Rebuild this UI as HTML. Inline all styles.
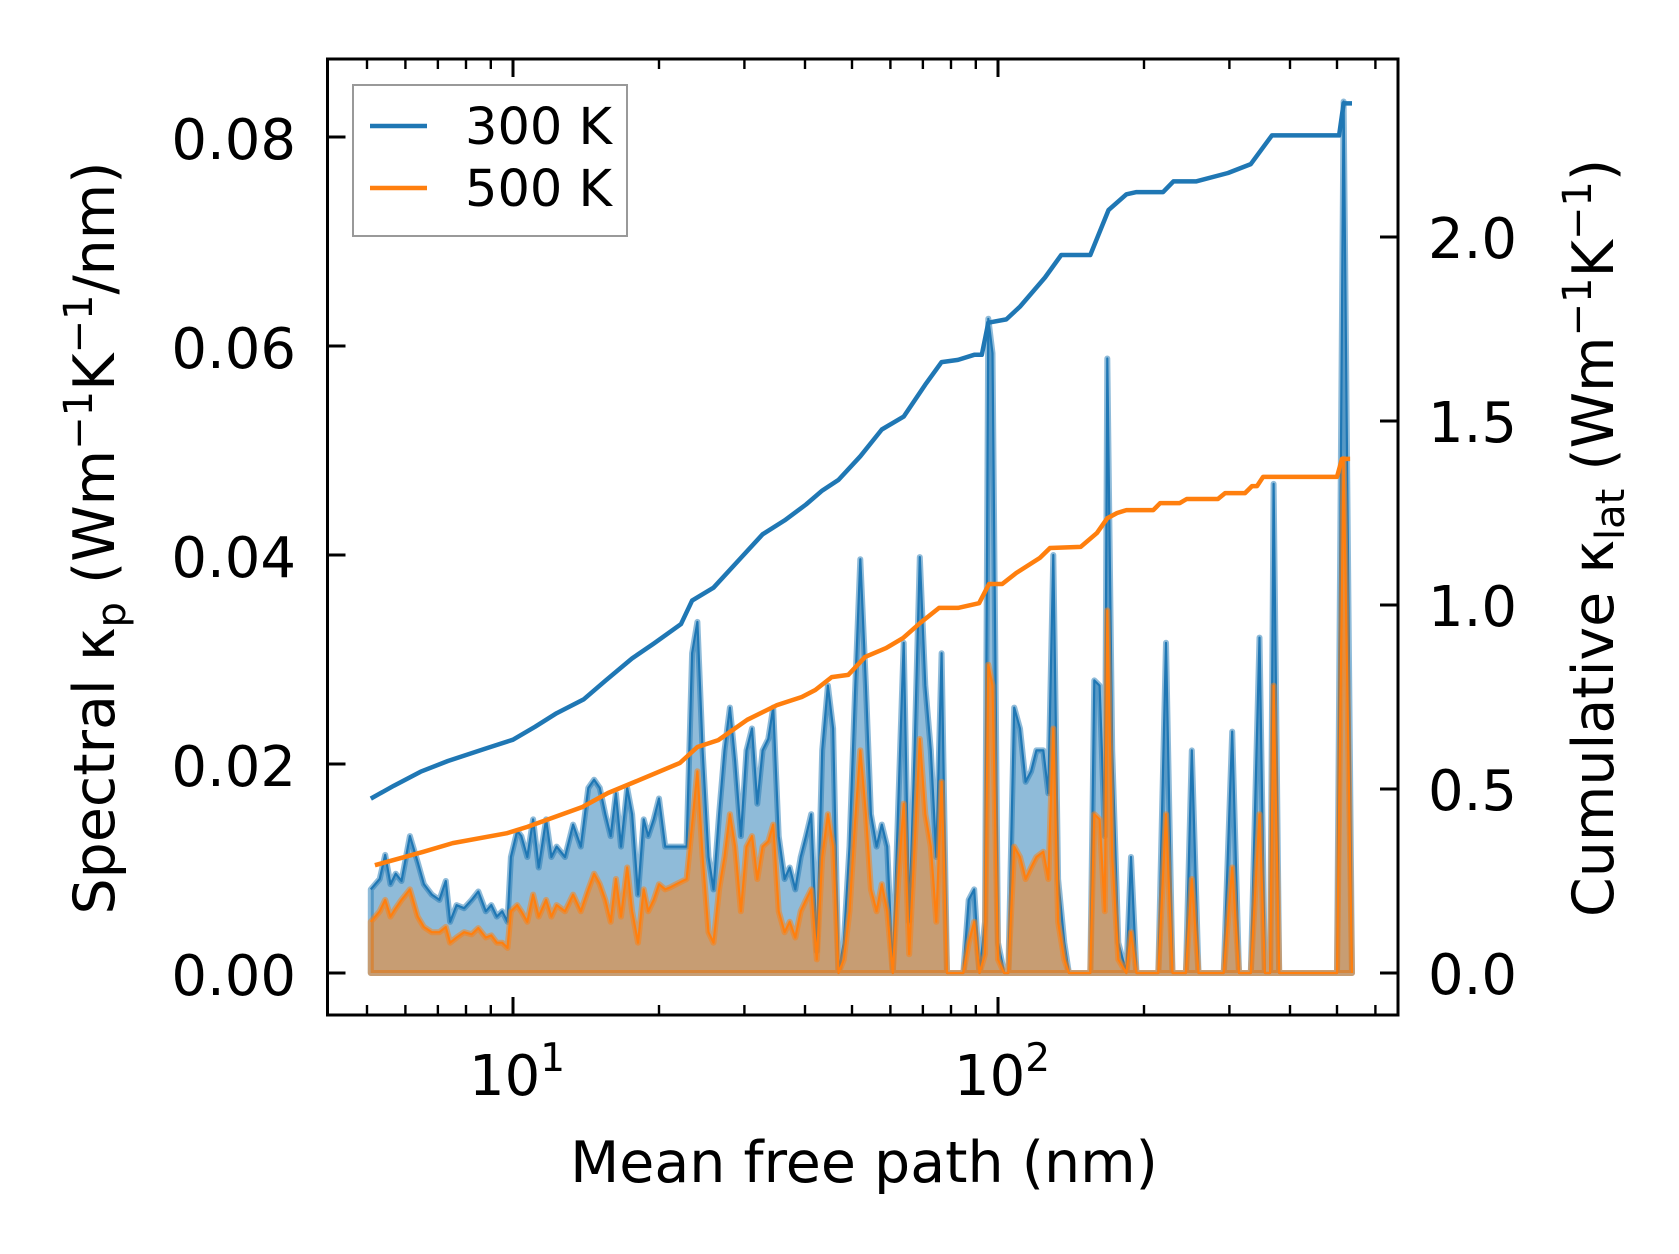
<!DOCTYPE html>
<html><head><meta charset="utf-8"><style>
html,body{margin:0;padding:0;background:#fff}
svg{display:block}
text{font-family:"DejaVu Sans","Liberation Sans",sans-serif;fill:#000}
</style></head><body>
<svg id="chart" width="1679" height="1254" viewBox="0 0 1679 1254" xmlns="http://www.w3.org/2000/svg">
<g id="plot"></g>
<g id="axes"></g>
</svg>
<script>
// ---- data ----
const specMfp = [5.09,5.31,5.45,5.59,5.73,5.89,6.13,6.36,6.55,6.80,7.05,7.27,7.42,7.65,7.93,8.22,8.48,8.79,9.02,9.26,9.50,9.74,9.90,10.2,10.4,10.7,11.0,11.3,11.7,12.0,12.3,12.8,13.3,13.8,14.3,14.7,15.1,15.5,15.9,16.3,16.7,17.2,17.6,18.1,18.6,19.0,19.5,20.0,20.6,21.1,21.7,22.8,23.4,24.0,24.6,25.3,25.9,26.6,27.3,28.0,28.7,29.5,30.3,31.1,31.9,32.7,33.6,34.4,35.3,36.3,37.2,38.2,39.2,40.2,41.2,42.3,43.4,44.6,45.7,46.9,48.1,49.4,50.7,52.0,53.4,54.7,56.2,57.6,59.1,60.7,62.3,63.9,65.6,67.3,69.0,70.8,72.7,74.6,76.5,78.5,84.8,87.0,89.3,91.6,94.0,95.5,97.4,100,103,105,108,111,114,117,120,124,127,130,133,137,140,155,158,162,166,168,172,177,184,188,193,214,222,229,244,251,259,292,304,314,332,346,355,364,370,380,500,516,537];
// spectral kappa, units of 1e-3 W m^-1 K^-1 / nm
const spec300 = [8.0,9.0,11.3,8.5,9.5,8.8,13.1,10.6,8.5,7.5,7.0,8.8,4.9,6.5,6.2,7.0,7.8,5.9,6.5,5.4,5.9,4.9,11.1,13.6,13.1,11.1,14.7,10.1,14.7,11.1,12.1,11.1,14.2,12.1,17.7,18.5,17.7,15.2,13.1,17.2,12.1,17.7,15.2,7.5,14.7,13.1,14.7,16.7,12.1,12.1,12.1,12.1,30.6,33.6,21.3,11.1,8.0,15.2,21.3,25.4,20.3,13.1,21.3,23.4,16.2,21.3,22.4,25.4,13.1,9.0,10.1,8.0,11.1,13.1,15.2,2.1,21.3,27.5,23.4,0,2.9,12.1,26.5,39.6,27.5,15.2,12.1,14.2,12.1,0,16.2,31.6,4.9,21.3,39.8,27.5,21.3,11.1,30.6,0,0,7.0,8.0,0,4.9,62.6,59.3,2.9,0,0,25.4,23.4,18.3,19.3,21.3,21.3,17.2,40.0,9.0,2.9,0,0,28.0,27.5,13.1,58.8,21.3,2.9,0,11.1,0,0,31.6,0,0,21.3,0,0,23.1,0,0,32.1,0,0,46.8,0,0,83.4,0];
const spec500 = [4.9,5.9,7.0,5.4,6.2,7.0,8.0,5.4,4.4,3.9,3.9,4.4,2.9,3.4,3.9,3.7,4.3,3.4,3.6,2.9,2.9,2.4,5.9,6.5,5.9,4.9,7.5,5.4,7.0,5.4,6.5,5.9,7.5,5.9,8.0,9.5,8.5,7.0,4.9,9.0,5.4,10.1,5.9,2.9,8.0,5.9,7.0,8.5,8.0,8.2,8.5,9.0,14.2,19.3,11.1,3.9,2.9,8.0,11.1,15.2,12.1,5.9,12.1,13.1,9.0,12.1,12.6,14.2,5.9,3.9,4.9,3.4,5.9,7.0,8.0,1.3,11.1,15.2,12.1,0,1.3,5.9,14.2,21.3,15.2,8.0,5.9,8.5,5.9,0,9.0,16.2,1.8,12.1,22.4,15.2,12.1,4.9,18.3,0,0,2.9,4.9,0,1.8,29.5,27.5,1.3,0,0,12.1,11.1,9.0,10.1,11.1,11.6,9.0,23.4,4.9,1.3,0,0,15.2,14.7,5.9,34.7,11.1,1.3,0,3.9,0,0,15.2,0,0,9.0,0,0,10.1,0,0,15.2,0,0,27.5,0,0,49.2,0];
const cum300Mfp = [5.09,5.68,6.45,7.34,8.79,10,11.1,12.3,14.0,15.5,17.6,19.5,22.2,23.4,25.9,29.5,32.7,36.3,40.2,43.4,46.9,52.0,57.6,63.9,70.8,76.5,82.7,89.3,92.6,95.5,104,111,125,135,155,169,184,193,219,230,256,298,332,367,505,516,537];
const cum300 = [0.474,0.509,0.547,0.576,0.610,0.634,0.669,0.706,0.744,0.794,0.855,0.895,0.948,1.012,1.047,1.128,1.192,1.230,1.273,1.311,1.340,1.404,1.477,1.512,1.599,1.660,1.666,1.680,1.680,1.767,1.776,1.811,1.890,1.951,1.951,2.073,2.116,2.122,2.122,2.151,2.151,2.174,2.198,2.276,2.276,2.363,2.363];
const cum500Mfp = [5.19,6.52,7.51,9.72,10.7,13.9,15.7,17.8,22.1,24.0,26.5,30.4,35.0,39.4,42.0,45.4,49.1,53.2,58.8,63.7,69.1,75.6,82.7,91.4,95.8,102,109,122,128,148,160,168,176,184,209,216,237,245,284,294,323,334,342,352,500,512,532];
const cum500 = [0.293,0.329,0.353,0.380,0.397,0.451,0.489,0.519,0.571,0.614,0.633,0.688,0.728,0.750,0.769,0.804,0.810,0.859,0.883,0.910,0.951,0.992,0.992,1.005,1.057,1.057,1.087,1.128,1.155,1.158,1.196,1.236,1.250,1.258,1.258,1.277,1.277,1.288,1.288,1.304,1.304,1.323,1.323,1.348,1.348,1.397,1.397];
const leftTicks = [0,0.02,0.04,0.06,0.08];
const leftTickLabels = ["0.00","0.02","0.04","0.06","0.08"];
const rightTicks = [0,0.5,1.0,1.5,2.0];
const rightTickLabels = ["0.0","0.5","1.0","1.5","2.0"];
const xMajor = [10,100];
const xMinor = [5,6,7,8,9,20,30,40,50,60,70,80,90,200,300,400,500,600];

// ---- geometry ----
const L=327.5,R=1398,T=59,B=1015;
const xs = m => 513 + (Math.log10(m)-1)*485;
const yl = v => 973 - v*10450;
const yr = c => 973 - c*368;
const NS="http://www.w3.org/2000/svg";
const plot=document.getElementById('plot'), axes=document.getElementById('axes');
function mk(tag, parent, attrs){const e=document.createElementNS(NS,tag);for(const k in attrs)e.setAttribute(k,attrs[k]);parent.appendChild(e);return e;}

function spectral(vals, color, name){
  const n=Math.min(specMfp.length, vals.length);
  let d=`M${xs(specMfp[0])},${yl(0)}`;
  let ln='';
  for(let i=0;i<n;i++){const p=`${xs(specMfp[i]).toFixed(1)},${yl(vals[i]*1e-3).toFixed(1)}`;d+=` L${p}`;ln+=(i?' L':'M')+p;}
  d+=` L${xs(specMfp[n-1])},${yl(0)} Z`;
  const f=mk('path',plot,{d:d,fill:color,'fill-opacity':0.5,stroke:color,'stroke-opacity':0.5,'stroke-width':6,'stroke-linejoin':'round'});
  
  
  const l=mk('path',plot,{d:ln,fill:'none',stroke:color,'stroke-width':2.2,'stroke-linejoin':'round'});
  
  
}
spectral(spec300,'#1f77b4','spectral-300k');
spectral(spec500,'#ff7f0e','spectral-500k');

function cumLine(xv, yv, color, name){
  let d='';
  for(let i=0;i<Math.min(xv.length,yv.length);i++) d+=(i?' L':'M')+xs(xv[i]).toFixed(1)+','+yr(yv[i]).toFixed(1);
  const p=mk('path',plot,{d:d,fill:'none',stroke:color,'stroke-width':4.5,'stroke-linejoin':'round'});
  
  
}
cumLine(cum300Mfp,cum300,'#1f77b4','cumulative-300k-line');
cumLine(cum500Mfp,cum500,'#ff7f0e','cumulative-500k-line');

const fr=mk('rect',axes,{x:L,y:T,width:R-L,height:B-T,fill:'none',stroke:'#000','stroke-width':3});



leftTicks.forEach((v,i)=>{
  const y=yl(v);
  mk('line',axes,{x1:L,x2:L+18,y1:y,y2:y,stroke:'#000','stroke-width':3});
  const t=mk('text',axes,{x:296,y:y+22,'text-anchor':'end','font-size':56});
  t.textContent=leftTickLabels[i];
  
  
});
rightTicks.forEach((v,i)=>{
  const y=yr(v);
  mk('line',axes,{x1:R-18,x2:R,y1:y,y2:y,stroke:'#000','stroke-width':3});
  const t=mk('text',axes,{x:1428,y:y+21,'font-size':56});
  t.textContent=rightTickLabels[i];
  
  
});
xMajor.forEach(m=>{
  const x=xs(m);
  mk('line',axes,{x1:x,x2:x,y1:B,y2:B-18,stroke:'#000','stroke-width':3});
  mk('line',axes,{x1:x,x2:x,y1:T,y2:T+18,stroke:'#000','stroke-width':3});
  const t=mk('text',axes,{x:x+4,y:1095,'text-anchor':'middle','font-size':56});
  t.innerHTML='10<tspan font-size="39" dy="-24">'+Math.round(Math.log10(m))+'</tspan>';
  
  
});
xMinor.forEach(m=>{
  const x=xs(m); if(x<L||x>R) return;
  mk('line',axes,{x1:x,x2:x,y1:B,y2:B-10,stroke:'#000','stroke-width':2.4});
  mk('line',axes,{x1:x,x2:x,y1:T,y2:T+10,stroke:'#000','stroke-width':2.4});
});
</script>
<svg style="position:absolute;left:0;top:0" width="1679" height="1254" viewBox="0 0 1679 1254" xmlns="http://www.w3.org/2000/svg">
<text x="864" y="1182" text-anchor="middle" font-size="57" font-family="DejaVu Sans, Liberation Sans, sans-serif">Mean free path (nm)</text>
<text transform="translate(114,538) rotate(-90)" text-anchor="middle" font-size="57" font-family="DejaVu Sans, Liberation Sans, sans-serif">Spectral κ<tspan font-size="40" dy="11">p</tspan><tspan dy="-11"> (Wm</tspan><tspan font-size="40" dy="-22">−1</tspan><tspan dy="22">K</tspan><tspan font-size="40" dy="-22">−1</tspan><tspan dy="22">/nm)</tspan></text>
<text transform="translate(1613,538) rotate(-90)" text-anchor="middle" font-size="57" font-family="DejaVu Sans, Liberation Sans, sans-serif">Cumulative κ<tspan font-size="40" dy="11">lat</tspan><tspan dy="-11"> (Wm</tspan><tspan font-size="40" dy="-22">−1</tspan><tspan dy="22">K</tspan><tspan font-size="40" dy="-22">−1</tspan><tspan dy="22">)</tspan></text>
<g>
<rect x="353" y="85" width="274" height="151" fill="#fff" fill-opacity="0.8" stroke="#999" stroke-width="2"/>
<line x1="370" x2="427" y1="126" y2="126" stroke="#1f77b4" stroke-width="4.5"/>
<text x="465" y="144" font-size="51" font-family="DejaVu Sans, Liberation Sans, sans-serif">300 K</text>
<line x1="370" x2="427" y1="188" y2="188" stroke="#ff7f0e" stroke-width="4.5"/>
<text x="465" y="206" font-size="51" font-family="DejaVu Sans, Liberation Sans, sans-serif">500 K</text>
</g>
</svg>
</body></html>
